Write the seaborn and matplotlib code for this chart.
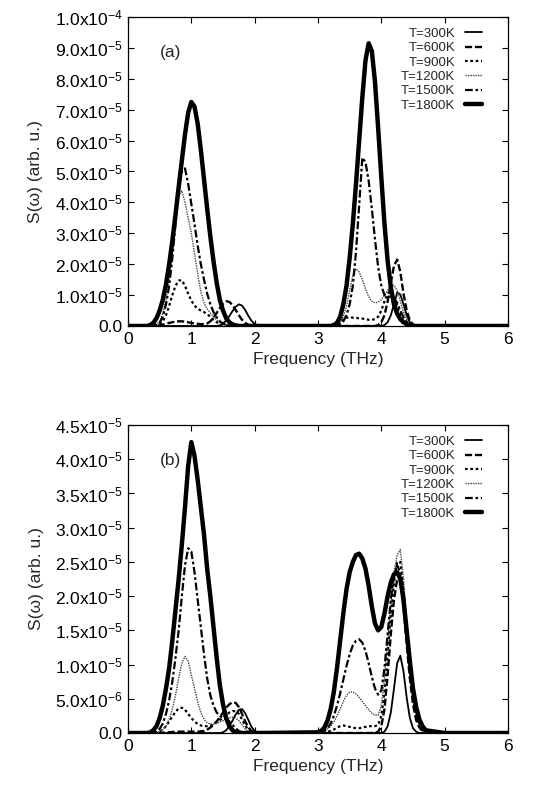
import numpy as np
import pandas as pd
import matplotlib
matplotlib.use("Agg")
import matplotlib.pyplot as plt
import seaborn as sns

# ---------------- data ----------------
FREQ_LOW = [0.30, 0.35, 0.40, 0.45, 0.50, 0.55, 0.60, 0.65, 0.70, 0.75, 0.80, 0.85,
            0.90, 0.95, 1.00, 1.05, 1.10, 1.15, 1.20, 1.25, 1.30, 1.35, 1.40, 1.45,
            1.50, 1.55, 1.60, 1.65, 1.70, 1.75, 1.80, 1.85, 1.90, 1.95, 2.00, 2.05, 2.10]
FREQ_HIGH = [3.00, 3.05, 3.10, 3.15, 3.20, 3.25, 3.30, 3.35, 3.40, 3.45, 3.50, 3.55,
             3.60, 3.65, 3.70, 3.75, 3.80, 3.85, 3.90, 3.95, 4.00, 4.05, 4.10, 4.15,
             4.20, 4.25, 4.30, 4.35, 4.40, 4.45, 4.50, 4.55, 4.60, 4.65, 4.70]
FREQ_START = [0.0]
FREQ_END = [5.0, 6.0]

TEMPS = ["T=300K", "T=600K", "T=900K", "T=1200K", "T=1500K", "T=1800K"]

# Panel (a), values in units of 1e-5
A300_LO = [0]*23 + [0.02, 0.08, 0.18, 0.32, 0.48, 0.62, 0.70, 0.66, 0.52, 0.33, 0.17, 0.07, 0.02, 0]
A600_LO = [0, 0, 0.005, 0.01, 0.02, 0.04, 0.07, 0.10, 0.12, 0.14, 0.15, 0.15, 0.14, 0.12, 0.10,
           0.08, 0.07, 0.06, 0.06, 0.08, 0.15, 0.27, 0.42, 0.58, 0.72, 0.80, 0.78, 0.68, 0.52,
           0.35, 0.20, 0.10, 0.04, 0.01, 0, 0, 0]
A900_LO = [0, 0, 0.01, 0.02, 0.05, 0.15, 0.35, 0.65, 1.00, 1.30, 1.47, 1.48, 1.30, 1.05, 0.82,
           0.66, 0.56, 0.50, 0.45, 0.38, 0.30, 0.20, 0.12, 0.07, 0.04, 0.02, 0.01] + [0]*10
A1200_LO = [0, 0.01, 0.02, 0.05, 0.15, 0.40, 0.85, 1.50, 2.40, 3.40, 4.20, 4.38, 4.00, 3.50,
            3.00, 2.35, 1.70, 1.10, 0.75, 0.55, 0.42, 0.30, 0.20, 0.12, 0.07, 0.04, 0.02,
            0.01] + [0]*9
A1500_LO = [0, 0.01, 0.02, 0.05, 0.10, 0.30, 0.70, 1.30, 2.20, 3.30, 4.40, 5.00, 5.10, 4.60,
            3.95, 3.30, 2.60, 2.00, 1.50, 1.05, 0.70, 0.45, 0.28, 0.15, 0.08, 0.03, 0.01] + [0]*10
A1800_LO = [0, 0.03, 0.10, 0.25, 0.50, 0.85, 1.35, 2.00, 2.75, 3.60, 4.50, 5.35, 6.20, 6.90,
            7.25, 7.10, 6.55, 5.70, 4.75, 3.80, 2.90, 2.10, 1.40, 0.85, 0.50, 0.25, 0.12,
            0.05, 0.02] + [0]*8

A300_HI = [0]*21 + [0.03, 0.12, 0.35, 0.70, 1.08, 1.02, 0.70, 0.35, 0.12, 0.03, 0, 0, 0, 0]
A600_HI = [0]*19 + [0.03, 0.12, 0.35, 0.80, 1.40, 1.95, 2.15, 1.75, 1.05, 0.50, 0.18, 0.05,
                    0.01, 0, 0, 0]
A900_HI = [0, 0, 0, 0, 0, 0.01, 0.03, 0.12, 0.22, 0.27, 0.28, 0.27, 0.26, 0.25, 0.24, 0.22,
           0.20, 0.20, 0.22, 0.30, 0.50, 0.80, 1.05, 1.10, 0.95, 0.65, 0.35, 0.15, 0.05, 0.01,
           0, 0, 0, 0, 0]
A1200_HI = [0, 0, 0, 0.01, 0.02, 0.03, 0.05, 0.12, 0.30, 0.65, 1.15, 1.65, 1.85, 1.75, 1.50,
            1.20, 0.95, 0.80, 0.75, 0.77, 0.85, 1.00, 1.15, 1.30, 1.32, 1.15, 0.80, 0.45, 0.20,
            0.08, 0.03, 0.01, 0, 0, 0]
A1500_HI = [0, 0, 0, 0, 0.01, 0.01, 0.02, 0.06, 0.15, 0.35, 0.70, 1.30, 2.40, 3.90, 5.45,
            5.30, 4.70, 3.80, 2.80, 1.90, 1.30, 1.00, 0.95, 0.95, 0.90, 0.75, 0.50, 0.28, 0.14,
            0.06, 0.02, 0, 0, 0, 0]
A1800_HI = [0, 0, 0, 0, 0, 0.03, 0.10, 0.30, 0.70, 1.30, 2.20, 3.30, 4.60, 6.00, 7.40, 8.60,
            9.15, 8.90, 7.90, 6.40, 4.80, 3.30, 2.10, 1.25, 0.70, 0.40, 0.22, 0.12, 0.06, 0.02,
            0, 0, 0, 0, 0]

# Panel (b), values in units of 1e-5
B300_LO = [0]*24 + [0.01, 0.04, 0.10, 0.18, 0.27, 0.34, 0.35, 0.29, 0.19, 0.09, 0.03, 0.01, 0]
B600_LO = [0, 0, 0, 0, 0, 0.005, 0.01, 0.01, 0.015, 0.02, 0.02, 0.02, 0.02, 0.02, 0.02, 0.02,
           0.02, 0.025, 0.03, 0.05, 0.08, 0.12, 0.17, 0.23, 0.30, 0.37, 0.42, 0.45, 0.44, 0.38,
           0.28, 0.17, 0.08, 0.03, 0.01, 0, 0]
B900_LO = [0, 0, 0.005, 0.01, 0.02, 0.05, 0.10, 0.17, 0.24, 0.31, 0.36, 0.37, 0.34, 0.28, 0.22,
           0.17, 0.13, 0.11, 0.10, 0.10, 0.11, 0.13, 0.16, 0.19, 0.22, 0.26, 0.30, 0.32, 0.32,
           0.28, 0.20, 0.11, 0.05, 0.02, 0.005, 0, 0]
B1200_LO = [0, 0, 0.005, 0.01, 0.02, 0.05, 0.10, 0.20, 0.35, 0.55, 0.80, 1.02, 1.12, 1.05,
            0.85, 0.65, 0.45, 0.30, 0.20, 0.15, 0.13, 0.13, 0.14, 0.16, 0.18, 0.20, 0.22, 0.23,
            0.22, 0.18, 0.12, 0.06, 0.02, 0.01, 0, 0, 0]
B1500_LO = [0, 0, 0.01, 0.02, 0.06, 0.14, 0.28, 0.48, 0.75, 1.10, 1.50, 2.00, 2.45, 2.70,
            2.65, 2.35, 1.95, 1.55, 1.15, 0.80, 0.55, 0.40, 0.30, 0.25, 0.22, 0.20, 0.17, 0.12,
            0.07, 0.03, 0.01, 0, 0, 0, 0, 0, 0]
B1800_LO = [0, 0.01, 0.04, 0.10, 0.22, 0.40, 0.65, 0.95, 1.35, 1.80, 2.25, 2.75, 3.30, 3.90,
            4.25, 4.05, 3.70, 3.30, 2.90, 2.40, 2.00, 1.55, 1.10, 0.70, 0.42, 0.22, 0.10, 0.04,
            0.01, 0, 0, 0, 0, 0, 0, 0, 0]

B300_HI = [0]*21 + [0.02, 0.10, 0.30, 0.65, 1.02, 1.13, 0.90, 0.52, 0.22, 0.07, 0.02, 0, 0, 0]
B600_HI = [0]*19 + [0.02, 0.10, 0.35, 0.85, 1.45, 1.95, 2.25, 2.25, 1.85, 1.30, 0.80, 0.42,
                    0.19, 0.08, 0.03, 0.01]
B900_HI = [0, 0, 0.01, 0.02, 0.03, 0.05, 0.08, 0.10, 0.11, 0.10, 0.09, 0.08, 0.07, 0.07, 0.08,
           0.09, 0.10, 0.10, 0.10, 0.12, 0.25, 0.60, 1.15, 1.75, 2.20, 2.50, 2.50, 2.10, 1.50,
           0.95, 0.50, 0.24, 0.10, 0.04, 0.01]
B1200_HI = [0, 0.01, 0.03, 0.06, 0.10, 0.16, 0.25, 0.35, 0.46, 0.55, 0.60, 0.60, 0.57, 0.52,
            0.46, 0.40, 0.34, 0.29, 0.26, 0.26, 0.40, 0.80, 1.35, 1.90, 2.35, 2.60, 2.68, 2.25,
            1.60, 1.00, 0.55, 0.27, 0.12, 0.05, 0.02]
B1500_HI = [0, 0.01, 0.03, 0.07, 0.14, 0.25, 0.40, 0.58, 0.78, 0.98, 1.15, 1.28, 1.35, 1.37,
            1.32, 1.20, 1.02, 0.82, 0.65, 0.56, 0.62, 0.95, 1.45, 1.95, 2.30, 2.45, 2.35, 2.00,
            1.50, 1.00, 0.60, 0.32, 0.15, 0.06, 0.02]
B1800_HI = [0.01, 0.03, 0.08, 0.18, 0.35, 0.60, 0.95, 1.35, 1.75, 2.10, 2.35, 2.50, 2.60, 2.62,
            2.55, 2.40, 2.15, 1.85, 1.60, 1.50, 1.55, 1.75, 2.00, 2.20, 2.32, 2.35, 2.25, 1.95,
            1.50, 1.05, 0.65, 0.38, 0.20, 0.10, 0.04]

PANEL_A = [(A300_LO, A300_HI), (A600_LO, A600_HI), (A900_LO, A900_HI),
           (A1200_LO, A1200_HI), (A1500_LO, A1500_HI), (A1800_LO, A1800_HI)]
PANEL_B = [(B300_LO, B300_HI), (B600_LO, B600_HI), (B900_LO, B900_HI),
           (B1200_LO, B1200_HI), (B1500_LO, B1500_HI), (B1800_LO, B1800_HI)]
UNIT = 1e-5

YTICKS_A = [0, 1e-5, 2e-5, 3e-5, 4e-5, 5e-5, 6e-5, 7e-5, 8e-5, 9e-5, 1e-4]
YTICKS_B = [0, 5e-6, 1e-5, 1.5e-5, 2e-5, 2.5e-5, 3e-5, 3.5e-5, 4e-5, 4.5e-5]
XTICKS = [0, 1, 2, 3, 4, 5, 6]

# ---------------- styling ----------------
sns.set_theme(style="ticks")
plt.rcParams["font.family"] = ["Liberation Sans", "DejaVu Sans"]
plt.rcParams["mathtext.fontset"] = "custom"
plt.rcParams["mathtext.rm"] = "Liberation Sans"
plt.rcParams["mathtext.it"] = "Liberation Sans:italic"
plt.rcParams["mathtext.bf"] = "Liberation Sans:bold"

STYLES = [
    dict(linestyle="-", linewidth=1.3, color="black"),
    dict(linestyle=(0, (3.0, 1.2)), linewidth=1.7, color="black"),
    dict(linestyle=(0, (1.2, 1.2)), linewidth=1.6, color="black"),
    dict(linestyle=(0, (1.0, 0.8)), linewidth=1.0, color="#444444"),
    dict(linestyle=(0, (3.5, 1.2, 1.2, 1.2)), linewidth=1.6, color="black"),
    dict(linestyle="-", linewidth=3.2, color="black"),
]


def ytick_fmt(v, pos=None):
    if v == 0:
        return "0.0"
    e = int(np.floor(np.log10(v) + 1e-9))
    m = v / 10 ** e
    return r"$\mathregular{%.1fx10^{%d}}$" % (m, e)


def build(panel_vals, temps):
    rows = []
    x = FREQ_START + FREQ_LOW + FREQ_HIGH + FREQ_END
    for t, (lo, hi) in zip(temps, panel_vals):
        y = [0.0] + list(lo) + list(hi) + [0.0, 0.0]
        for xi, yi in zip(x, y):
            rows.append({"freq": xi, "S": yi * UNIT, "T": t})
    return pd.DataFrame(rows)


fig = plt.figure(figsize=(5.41, 7.91), dpi=100)
ax_a = fig.add_axes([0.2366, 0.5879, 0.7024, 0.3906])
ax_b = fig.add_axes([0.2366, 0.0733, 0.7024, 0.3894])

for ax, vals, yticks, ymax, tag in [(ax_a, PANEL_A, YTICKS_A, 1e-4, "(a)"),
                                     (ax_b, PANEL_B, YTICKS_B, 4.5e-5, "(b)")]:
    df = build(vals, TEMPS)
    for t, st in zip(TEMPS, STYLES):
        sub = df[df["T"] == t]
        sns.lineplot(data=sub, x="freq", y="S", ax=ax, estimator=None, sort=False,
                     label=t, **st)
    ax.set_xlim(0, 6)
    ax.set_ylim(0, ymax)
    ax.set_xticks(XTICKS)
    ax.set_xticklabels([str(v) for v in XTICKS])
    ax.set_yticks(yticks)
    ax.set_yticklabels([ytick_fmt(v) for v in yticks])
    ax.tick_params(direction="in", length=4, width=0.8, top=True, right=True,
                   labelsize=12.5, pad=4, colors="black")
    for sp in ax.spines.values():
        sp.set_linewidth(0.9)
        sp.set_color("black")
    ax.set_xlabel("Frequency (THz)", fontsize=12.5, labelpad=4)
    ax.set_ylabel("S(\u03c9) (arb. u.)", fontsize=12.5, labelpad=8)
    ax.text(0.085, 0.885, tag, transform=ax.transAxes, fontsize=12.5,
            ha="left", va="center")
    leg = ax.legend(loc="upper right", frameon=False, markerfirst=False, fontsize=9.5,
                    handlelength=1.3, handletextpad=0.7, labelspacing=0.16,
                    borderaxespad=0.3, bbox_to_anchor=(0.955, 0.995))

fig.savefig("out.png", dpi=100, facecolor="white")
